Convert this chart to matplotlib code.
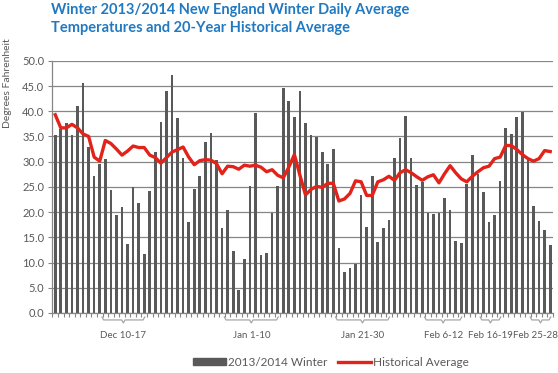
import numpy as np
import matplotlib
matplotlib.use("Agg")
import matplotlib.pyplot as plt
from matplotlib.patches import Patch
from matplotlib.lines import Line2D

plt.rcParams['font.family'] = ['Lato', 'DejaVu Sans']

# daily average temps, Dec 1 2013 - Feb 28 2014
winter = [35.2, 36.4, 37.6, 35.2, 41.1, 45.5, 33.0, 27.1, 29.6, 30.5,
          24.3, 19.4, 21.1, 13.7, 24.9, 21.8, 11.6, 24.1, 32.0, 37.8,
          44.1, 47.2, 38.6, 30.7, 18.0, 24.6, 27.1, 33.8, 35.6, 30.3,
          16.8, 20.5, 12.2, 4.6, 10.7, 25.1, 39.7, 11.5, 11.9, 19.8,
          25.1, 44.6, 42.1, 38.8, 44.1, 37.6, 35.2, 34.8, 32.0, 29.5,
          32.6, 12.9, 8.2, 8.9, 9.8, 23.4, 17.0, 27.1, 14.1, 16.8,
          18.4, 30.7, 34.6, 39.1, 30.7, 25.3, 26.0, 19.9, 19.6, 19.9,
          22.8, 20.4, 14.3, 13.8, 25.5, 31.4, 27.5, 23.9, 18.0, 19.5,
          26.1, 36.6, 35.4, 38.8, 39.9, 30.3, 21.3, 18.2, 16.4, 13.5]

historical = [39.3, 36.7, 36.7, 37.4, 36.7, 35.5, 35.0, 30.9, 30.1, 34.2,
              33.6, 32.5, 31.3, 32.1, 33.1, 32.8, 32.8, 31.3, 30.8, 29.7,
              30.8, 31.9, 32.4, 32.9, 30.9, 29.4, 30.2, 30.4, 30.3, 29.6,
              27.6, 29.1, 29.0, 28.5, 29.3, 29.1, 29.3, 28.9, 28.0, 28.4,
              27.3, 26.8, 28.9, 31.4, 27.3, 23.4, 24.5, 25.1, 24.9, 25.7,
              25.7, 22.2, 22.6, 23.7, 26.2, 26.0, 23.3, 23.3, 26.0, 26.4,
              27.1, 26.3, 27.8, 28.4, 27.8, 27.0, 26.3, 27.0, 27.4, 25.8,
              27.6, 29.2, 27.8, 26.6, 26.0, 27.1, 28.0, 28.8, 29.1, 30.6,
              30.9, 33.2, 33.2, 32.4, 31.4, 30.6, 30.1, 30.6, 32.2, 32.0]

# labelled day ranges (index of first and last day, 0 = Dec 1)
brace_labels = ['Dec 10-17', 'Jan 1-10', 'Jan 21-30', 'Feb 6-12', 'Feb 16-19', 'Feb 25-28']
brace_start = [9, 31, 51, 67, 77, 86]
brace_end = [16, 40, 60, 73, 80, 89]

days = np.arange(len(winter))
gray = '#868686'
txt = '#595959'

fig = plt.figure(figsize=(5.58, 3.73), dpi=100)
ax = fig.add_axes([0.094, 0.161, 0.897, 0.676])

ax.bar(days, winter, width=0.48, color='#595959', zorder=2)
ax.plot(days, historical, color='#E2231A', lw=2.4, zorder=3, solid_joinstyle='round')

ax.set_xlim(-0.5, len(winter) - 0.5)
ax.set_ylim(0, 50)
ax.set_yticks(np.arange(0, 50.1, 5))
ax.set_yticklabels(['%.1f' % v for v in np.arange(0, 50.1, 5)], fontsize=8, color=txt)
ax.set_xticks(np.arange(-0.5, len(winter), 1))
ax.set_xticklabels([])
ax.tick_params(axis='both', length=3, width=0.8, color=gray, direction='out')
ax.tick_params(axis='y', pad=3)
ax.yaxis.grid(True, color=gray, lw=0.9)
ax.set_axisbelow(True)
for s in ['top', 'right']:
    ax.spines[s].set_visible(False)
for s in ['left', 'bottom']:
    ax.spines[s].set_color(gray)
    ax.spines[s].set_linewidth(0.9)

# braces under the day ranges
tr = ax.get_xaxis_transform()
px = 1.0 / 252
for lab, a, b in zip(brace_labels, brace_start, brace_end):
    x0, x1 = a - 0.6, b + 0.1
    xm = (x0 + x1) / 2
    top, mid, low = -4 * px, -7 * px, -10 * px
    ax.plot([x0, x0 + 0.3, xm - 0.3, xm, xm + 0.3, x1 - 0.3, x1],
            [top, mid, mid, low, mid, mid, top],
            color='#a6a6a6', lw=0.9, transform=tr, clip_on=False)
    ax.text(min(xm, 86.3), -23 * px, lab, transform=tr, ha='center', va='center',
            fontsize=7.0, color=txt)

fig.text(51 / 558, 1 - 3 / 373,
         'Winter 2013/2014 New England Winter Daily Average\nTemperatures and 20-Year Historical Average',
         ha='left', va='top', fontsize=10.5, fontweight='bold', color='#2179C1',
         linespacing=1.35)
fig.text(8 / 558, 1 - 83 / 373, 'Degrees Fahrenheit', rotation=90,
         ha='center', va='center', fontsize=7.5, color=txt)

handles = [Patch(color='#595959'), Line2D([0], [0], color='#E2231A', lw=2.4)]
fig.legend(handles, ['2013/2014 Winter', 'Historical Average'], loc='center',
           bbox_to_anchor=(331 / 558, 1 - 362 / 373), ncol=2, frameon=False,
           fontsize=8.5, labelcolor=txt, handlelength=2.8, handleheight=0.55,
           handletextpad=0.2, columnspacing=0.9)

fig.savefig('out.png', dpi=100)
